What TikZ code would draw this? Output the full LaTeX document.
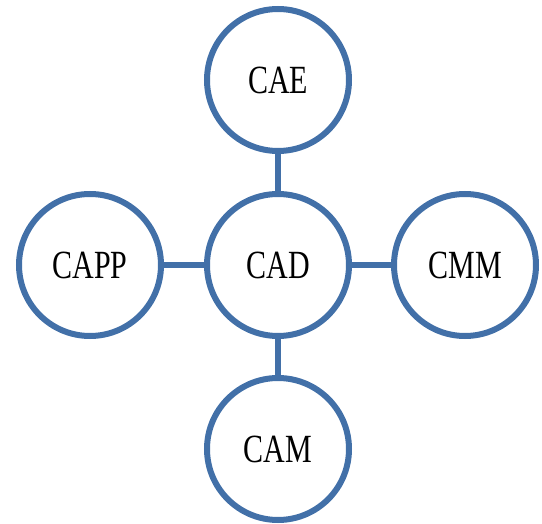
\documentclass[tikz,border=0pt]{standalone}
\usepackage{fontspec}
\setmainfont[FakeStretch=0.75]{Liberation Serif}
\definecolor{ringblue}{RGB}{66,112,168}
\begin{document}
\begin{tikzpicture}[x=1pt,y=-1pt,
  ring/.style={circle,draw=ringblue,line width=6pt,fill=white,minimum size=142pt,inner sep=0pt,font=\fontsize{40}{40}\selectfont},
  link/.style={draw=ringblue,line width=5.5pt}]
\useasboundingbox (0,0) rectangle (542,524);
\node[ring] (cad) at (278,265) {CAD};
\node[ring] (cae) at (278,80) {CAE};
\node[ring] (capp) at (90,265) {CAPP};
\node[ring] (cmm) at (465,265) {CMM};
\node[ring] (cam) at (278,449) {CAM};
\draw[link] (cad) -- (cae);
\draw[link] (cad) -- (capp);
\draw[link] (cad) -- (cmm);
\draw[link] (cad) -- (cam);
\end{tikzpicture}
\end{document}
